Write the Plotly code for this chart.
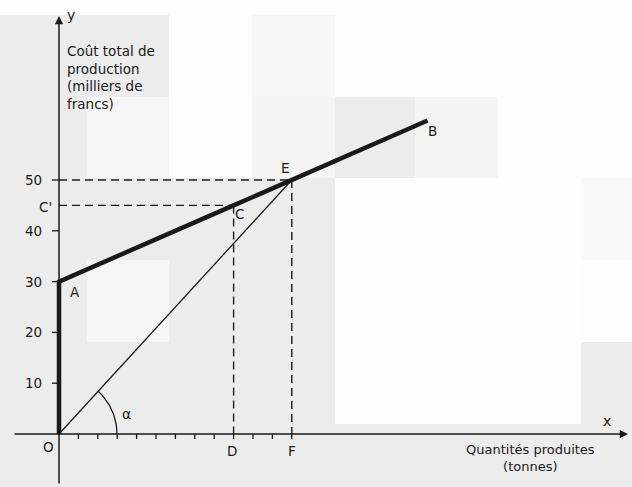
import numpy as np
import plotly.graph_objects as go

W, H = 632, 487

# --- chart data -------------------------------------------------------
quantites = [0, 0, 9, 12, 19]          # O, A, C (-> D), E (-> F), B
couts = [0, 30, 45, 50, 61.7]          # total cost (thousand francs)
point_names = ["O", "A", "C", "E", "B"]
x_ticks = list(range(1, 13))
y_ticks = [10, 20, 30, 40, 50]
y_tick_labels = ["10", "20", "30", "40", "50"]

# --- frame (pixels per unit, origin in pixels) -------------------------
X0_PX, Y0_PX = 59, 434
SX, SY = 19.4, 5.08


def px2x(px):
    return (px - X0_PX) / SX


def py2y(py):
    return (Y0_PX - py) / SY


x_range = [px2x(0), px2x(W)]
y_range = [py2y(H), py2y(0)]

INK = "#1a1a1a"
FONT = "DejaVu Sans"
GRAY = "#ececec"

fig = go.Figure()

# scanned-paper background: light grey with whiter tiles
white_tiles = [
    (0, 0, 632, 15, "#fdfdfd"),
    (169, 15, 632, 97, "#fdfdfd"),
    (252, 15, 335, 97, "#f7f7f7"),
    (87, 97, 169, 178, "#f6f6f6"),
    (169, 97, 252, 178, "#fcfcfc"),
    (252, 97, 335, 178, "#f5f5f5"),
    (415, 97, 498, 178, "#f5f5f5"),
    (498, 97, 632, 178, "#fdfdfd"),
    (335, 178, 581, 424, "#fefefe"),
    (581, 178, 632, 260, "#f9f9f9"),
    (581, 260, 632, 342, "#fdfdfd"),
    (87, 260, 169, 342, "#f6f6f6"),
]
shapes = []
for x0, y0, x1, y1, c in white_tiles:
    shapes.append(dict(type="rect", xref="paper", yref="paper",
                       x0=x0 / W, x1=x1 / W, y0=1 - y1 / H, y1=1 - y0 / H,
                       fillcolor=c, line=dict(width=0), layer="below"))

# axis tick marks
tx, ty = [], []
for t in x_ticks:
    tx += [t, t, None]
    ty += [0, -1.0, None]
for t in y_ticks:
    tx += [-0.36, 0, None]
    ty += [t, t, None]
fig.add_trace(go.Scatter(x=tx, y=ty, mode="lines",
                         line=dict(color=INK, width=1.3), hoverinfo="skip"))

# dashed guides from C and E to the axes
iC, iE = 2, 3
for i in (iC, iE):
    fig.add_trace(go.Scatter(x=[0, quantites[i]], y=[couts[i], couts[i]], mode="lines",
                             line=dict(color=INK, width=1.4, dash="8px,5px"), hoverinfo="skip"))
    fig.add_trace(go.Scatter(x=[quantites[i], quantites[i]], y=[couts[i], 0], mode="lines",
                             line=dict(color=INK, width=1.4, dash="8px,5px"), hoverinfo="skip"))

# ray from the origin to E
fig.add_trace(go.Scatter(x=[quantites[0], quantites[iE]], y=[couts[0], couts[iE]],
                         mode="lines", line=dict(color=INK, width=1.3), hoverinfo="skip"))

# angle arc at the origin (drawn in screen space)
theta_end = np.arctan2(couts[iE] * SY, quantites[iE] * SX)
th = np.linspace(0, theta_end, 40)
r_px = 58
fig.add_trace(go.Scatter(x=r_px * np.cos(th) / SX, y=r_px * np.sin(th) / SY, mode="lines",
                         line=dict(color=INK, width=1.3), hoverinfo="skip"))

# total cost curve O-A-B (fixed cost then linear)
fig.add_trace(go.Scatter(x=quantites, y=couts, mode="lines",
                         line=dict(color=INK, width=4.5), hoverinfo="skip"))

annotations = []
# axes with arrows
annotations.append(dict(x=px2x(628), y=0, ax=px2x(13), ay=0, xref="x", yref="y",
                         axref="x", ayref="y", text="", showarrow=True,
                         arrowhead=2, arrowsize=1.1, arrowwidth=1.5, arrowcolor=INK))
annotations.append(dict(x=0, y=py2y(16), ax=0, ay=py2y(485), xref="x", yref="y",
                         axref="x", ayref="y", text="", showarrow=True,
                         arrowhead=2, arrowsize=1.1, arrowwidth=1.5, arrowcolor=INK))


def label(text, px, py, size=13.5, xanchor="center", align="center"):
    annotations.append(dict(x=px2x(px), y=py2y(py), xref="x", yref="y", text=text,
                            showarrow=False, xanchor=xanchor, yanchor="middle", align=align,
                            font=dict(family=FONT, size=size, color=INK)))


# y tick labels
for t, s in zip(y_ticks, y_tick_labels):
    annotations.append(dict(x=px2x(44), y=t, xref="x", yref="y", text=s, showarrow=False,
                            xanchor="right", yanchor="middle",
                            font=dict(family=FONT, size=13.5, color=INK)))

label("C'", 45, 207)
label("y", 71, 15, size=14)
label("x", 607, 421, size=14)

# point labels
label_pos = {"O": (48, 447), "A": (75, 292), "C": (239, 214), "E": (285, 168), "B": (432, 131)}
for n in point_names:
    label(n, *label_pos[n])
label("D", 232, 451)
label("F", 292, 451)
label("α", 126, 414, size=14)

# axis titles
label("Coût total de<br>production<br>(milliers de<br>francs)", 65, 77,
      size=13.5, xanchor="left", align="left")
label("Quantités produites<br>(tonnes)", 530, 458, size=13)

fig.update_layout(
    width=W, height=H,
    margin=dict(l=0, r=0, t=0, b=0),
    paper_bgcolor=GRAY, plot_bgcolor="rgba(0,0,0,0)",
    showlegend=False,
    xaxis=dict(range=x_range, visible=False, fixedrange=True),
    yaxis=dict(range=y_range, visible=False, fixedrange=True),
    shapes=shapes,
    annotations=annotations,
)

fig.write_html("out.html")
